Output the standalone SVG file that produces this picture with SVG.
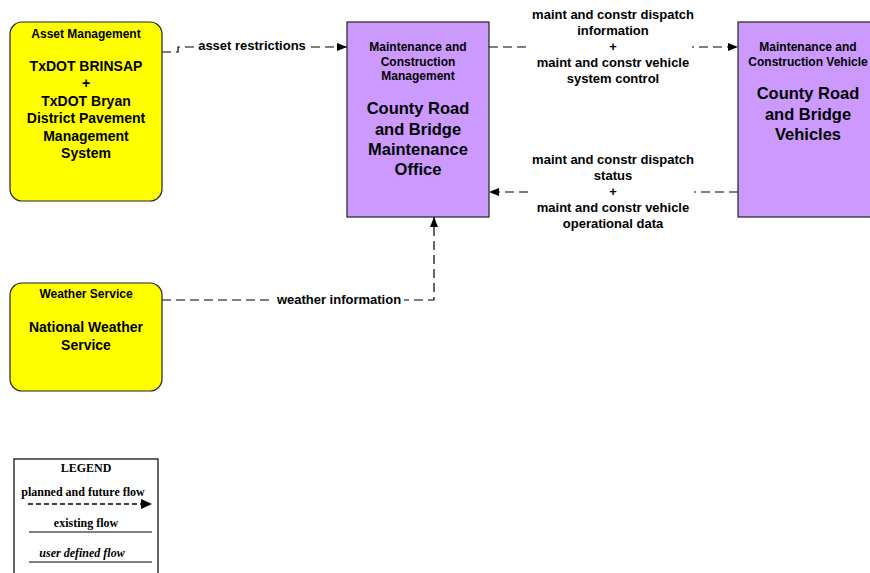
<svg xmlns="http://www.w3.org/2000/svg" width="870" height="573" viewBox="0 0 870 573">
  <style>
    .ext { fill: #ffff00; stroke: #222; stroke-width: 1.2; }
    .sys { fill: #cc99ff; stroke: #222; stroke-width: 1.2; }
    .t { font-family: "Liberation Sans", Arial, sans-serif; font-weight: bold; fill: #000; text-anchor: middle; }
    .hdr { font-size: 12px; }
    .ttl { font-size: 14px; }
    .big { font-size: 16.5px; }
    .lbl { font-size: 13px; }
    .flow { fill: none; stroke: #000; stroke-width: 1.2; stroke-dasharray: 9 5; }
    .bg { fill: #fff; }
    .leg { font-family: "Liberation Serif", "Times New Roman", serif; font-weight: bold; font-size: 12px; text-anchor: middle; fill: #000; }
  </style>
  <defs>
    <marker id="arrow" viewBox="0 0 10 8" refX="10" refY="4" markerWidth="10" markerHeight="8" markerUnits="userSpaceOnUse" orient="auto">
      <path d="M0,0 L10,4 L0,8 Z" fill="#000"/>
    </marker>
  </defs>

  <rect width="870" height="573" fill="#fff"/>

  <!-- connectors -->
  <g id="connectors">
    <g id="flow-asset-restrictions">
      <path class="flow" d="M162,52 H178 V47 H347" marker-end="url(#arrow)"/>
      <rect class="bg" x="196" y="38" width="112" height="16"/>
      <text class="t lbl" x="252" y="50">asset restrictions</text>
    </g>
    <g id="flow-dispatch-info">
      <path class="flow" d="M489,47 H738" marker-end="url(#arrow)"/>
      <rect class="bg" x="526" y="4" width="166" height="84"/>
      <text class="t lbl" x="613" y="19">maint and constr dispatch</text>
      <text class="t lbl" x="613" y="35">information</text>
      <text class="t lbl" x="613" y="51">+</text>
      <text class="t lbl" x="613" y="67">maint and constr vehicle</text>
      <text class="t lbl" x="613" y="83">system control</text>
    </g>
    <g id="flow-dispatch-status">
      <path class="flow" d="M738,192 H489" marker-end="url(#arrow)"/>
      <rect class="bg" x="528" y="150" width="166" height="84"/>
      <text class="t lbl" x="613" y="164">maint and constr dispatch</text>
      <text class="t lbl" x="613" y="180">status</text>
      <text class="t lbl" x="613" y="196">+</text>
      <text class="t lbl" x="613" y="212">maint and constr vehicle</text>
      <text class="t lbl" x="613" y="228">operational data</text>
    </g>
    <g id="flow-weather">
      <path class="flow" d="M162,300 H434 V217" marker-end="url(#arrow)"/>
      <rect class="bg" x="274" y="292" width="130" height="16"/>
      <text class="t lbl" x="339" y="304">weather information</text>
    </g>
  </g>

  <!-- nodes -->
  <g id="asset-management">
    <rect class="ext" x="10" y="22" width="152" height="179" rx="12" ry="12"/>
    <text class="t hdr" x="86" y="38">Asset Management</text>
    <text class="t ttl" x="86" y="71">TxDOT BRINSAP</text>
    <text class="t ttl" x="86" y="88">+</text>
    <text class="t ttl" x="86" y="106">TxDOT Bryan</text>
    <text class="t ttl" x="86" y="123">District Pavement</text>
    <text class="t ttl" x="86" y="141">Management</text>
    <text class="t ttl" x="86" y="158">System</text>
  </g>

  <g id="maintenance-office">
    <rect class="sys" x="347" y="22" width="142" height="195"/>
    <text class="t hdr" x="418" y="51">Maintenance and</text>
    <text class="t hdr" x="418" y="66">Construction</text>
    <text class="t hdr" x="418" y="80">Management</text>
    <text class="t big" x="418" y="114">County Road</text>
    <text class="t big" x="418" y="135">and Bridge</text>
    <text class="t big" x="418" y="155">Maintenance</text>
    <text class="t big" x="418" y="175">Office</text>
  </g>

  <g id="road-bridge-vehicles">
    <rect class="sys" x="738" y="22" width="142" height="195"/>
    <text class="t hdr" x="808" y="51">Maintenance and</text>
    <text class="t hdr" x="808" y="66">Construction Vehicle</text>
    <text class="t big" x="808" y="99">County Road</text>
    <text class="t big" x="808" y="120">and Bridge</text>
    <text class="t big" x="808" y="140">Vehicles</text>
  </g>

  <g id="weather-service">
    <rect class="ext" x="10" y="283" width="152" height="108" rx="12" ry="12"/>
    <text class="t hdr" x="86" y="298">Weather Service</text>
    <text class="t ttl" x="86" y="332">National Weather</text>
    <text class="t ttl" x="86" y="350">Service</text>
  </g>

  <!-- legend -->
  <g id="legend">
    <rect x="14" y="459" width="144" height="120" fill="#fff" stroke="#000" stroke-width="1.2"/>
    <text class="leg" x="86" y="472" font-size="11">LEGEND</text>
    <text class="leg" x="83" y="496">planned and future flow</text>
    <path d="M28,504 H142" fill="none" stroke="#000" stroke-width="1.3" stroke-dasharray="5 3"/>
    <path d="M141,499 L152,504 L141,509 Z" fill="#000"/>
    <text class="leg" x="86" y="527">existing flow</text>
    <path d="M29,532 H152" stroke="#000" stroke-width="1.2"/>
    <text class="leg" x="82" y="557" font-style="italic">user defined flow</text>
    <path d="M29,562 H152" stroke="#000" stroke-width="1.2"/>
  </g>
</svg>
